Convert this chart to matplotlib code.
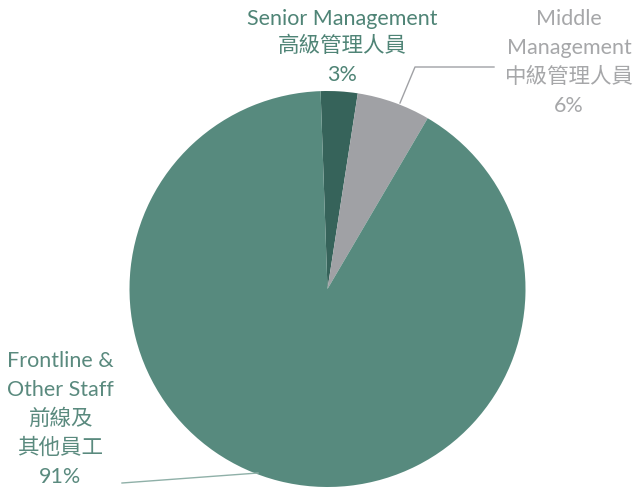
import matplotlib
matplotlib.use("Agg")
import matplotlib.pyplot as plt

categories_en = ["Senior Management", "Middle Management", "Frontline & Other Staff"]
categories_zh = ["高級管理人員", "中級管理人員", "前線及其他員工"]
shares = [3, 6, 91]
pct_labels = ["3%", "6%", "91%"]

slice_colors = ["#36635a", "#a0a1a5", "#578a7e"]
text_colors = ["#4f8476", "#a6a7a9", "#5a8a7e"]

W, H = 638, 490
fig = plt.figure(figsize=(W / 100, H / 100), dpi=100)
ax = fig.add_axes([0, 0, 1, 1])
ax.set_xlim(0, W)
ax.set_ylim(0, H)
ax.axis("off")

def py(y):
    return H - y

ax.pie(shares, colors=slice_colors, startangle=92, counterclock=False,
       center=(327.5, py(289)), radius=198, frame=True,
       wedgeprops=dict(linewidth=0))
ax.set_xlim(0, W)
ax.set_ylim(0, H)
ax.set_aspect("equal")
ax.axis("off")

fam = ["Lato", "Noto Sans CJK TC"]
fs = 15.5

def lines_at(lines, x, ys, color):
    for t, y in zip(lines, ys):
        ax.text(x, py(y), t, ha="center", va="center", fontsize=fs,
                color=color, family=fam)

# Senior
lines_at([categories_en[0], categories_zh[0], pct_labels[0]], 342.5,
         [19, 46, 75], text_colors[0])
# Middle
lines_at(["Middle", "Management", categories_zh[1], pct_labels[1]], 569,
         [19, 48, 77, 106], text_colors[1])
# Frontline
lines_at(["Frontline &", "Other Staff", categories_zh[2][:3], categories_zh[2][3:],
          pct_labels[2]], 60, [361, 390, 419, 448, 477], text_colors[2])

# leader lines
ax.plot([400, 415, 494], [py(103), py(67), py(67)], color="#a0a1a5", lw=1)
ax.plot([122, 258], [py(483), py(473)], color="#8fb0a8", lw=1)

fig.savefig("out.png", dpi=100)
